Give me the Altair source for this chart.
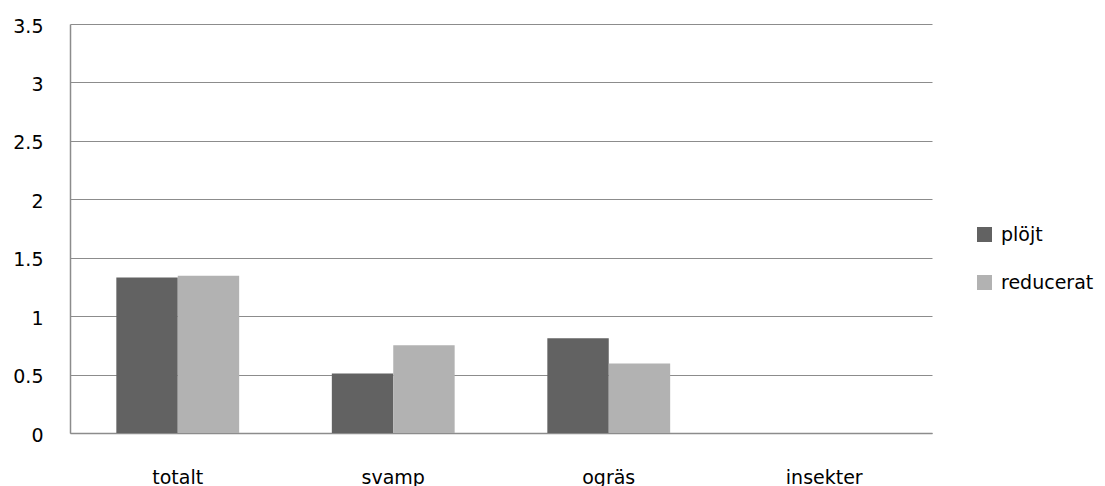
import altair as alt
import pandas as pd

categories = ["totalt", "svamp", "ogräs", "insekter"]
plojt = [1.33, 0.51, 0.81, 0.0]
reducerat = [1.345, 0.75, 0.595, 0.0]
series = ["plöjt", "reducerat"]
colors = ["#626262", "#b2b2b2"]

rows = []
for c, a, b in zip(categories, plojt, reducerat):
    rows.append({"kategori": c, "serie": series[0], "värde": a})
    rows.append({"kategori": c, "serie": series[1], "värde": b})
df = pd.DataFrame(rows)

FONT = "DejaVu Sans"
FS = 19

chart = alt.Chart(df).mark_bar().encode(
    x=alt.X("kategori:N", sort=categories, title=None,
            scale=alt.Scale(paddingInner=0.43, paddingOuter=0.215),
            axis=alt.Axis(labelAngle=0, tickSize=0, ticks=False, labelPadding=50,
                          labelBaseline="alphabetic", domainColor="#8c8c8c",
                          labelFontSize=FS, labelFont=FONT, labelColor="#000000")),
    xOffset=alt.XOffset("serie:N", sort=series),
    y=alt.Y("värde:Q", title=None,
            scale=alt.Scale(domain=[0, 3.5], nice=False),
            axis=alt.Axis(values=[0, 0.5, 1, 1.5, 2, 2.5, 3, 3.5], format=".1~f",
                          tickSize=0, ticks=False, labelPadding=27, domainColor="#8c8c8c",
                          gridColor="#8c8c8c", labelFontSize=FS, labelFont=FONT,
                          labelColor="#000000", labelOffset=2)),
    color=alt.Color("serie:N", sort=series,
                    scale=alt.Scale(domain=series, range=colors),
                    legend=alt.Legend(title=None, orient="none", legendX=905, legendY=201,
                                      symbolType="square", symbolSize=225,
                                      symbolStrokeWidth=0, labelFontSize=FS,
                                      labelFont=FONT, labelOffset=7, rowPadding=28,
                                      padding=0, labelColor="#000000")),
).properties(
    width=862, height=409,
    autosize=alt.AutoSizeParams(type="none"),
    padding={"left": 62, "top": 16, "right": 164, "bottom": 53},
).configure_view(stroke=None).configure_axis(gridWidth=1, domainWidth=1.5)

chart.save("out.html", embed_options={"renderer": "svg", "actions": False})
